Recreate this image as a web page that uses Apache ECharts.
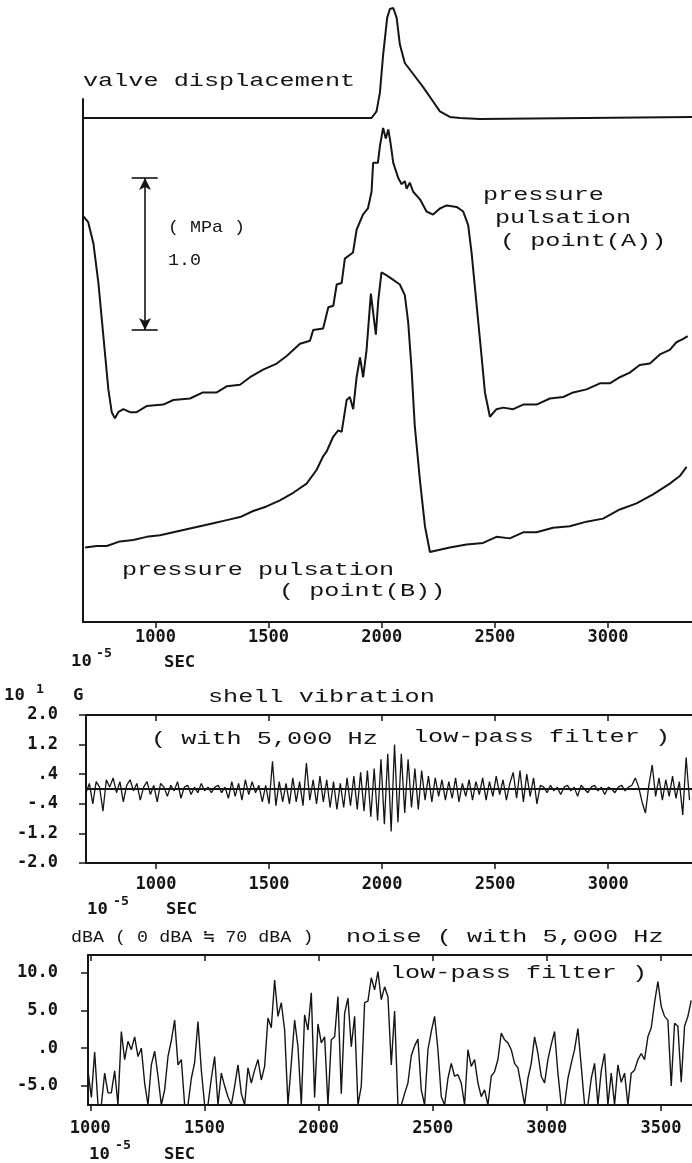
<!DOCTYPE html>
<html>
<head>
<meta charset="utf-8">
<script src="https://cdn.jsdelivr.net/npm/echarts@6/dist/echarts.min.js"></script>
<style>
  html, body { margin: 0; padding: 0; background: #fff; }
  #chart { width: 692px; height: 1163px; }
</style>
</head>
<body>
<div id="chart"></div>
<script>
// time axis is in 10^-5 sec everywhere

// valve displacement (relative, peak = 1)
const valveTime = [680, 1197, 1955, 1977, 1992, 2006, 2024, 2036, 2051, 2066, 2080, 2102, 2139, 2183, 2227, 2257, 2301, 2345, 2434, 3371];
const valveDisp = [0, 0, 0, 0.06, 0.23, 0.57, 0.91, 0.99, 1.0, 0.91, 0.67, 0.5, 0.4, 0.28, 0.15, 0.06, 0.01, 0, -0.01, 0.01];

// pressure pulsation, point (A), MPa above the axis
const timeA = [681, 703, 726, 748, 770, 792, 807, 821, 836, 858, 888, 917, 961, 1035, 1079, 1153, 1210, 1271, 1315, 1374,
  1418, 1476, 1536, 1580, 1639, 1683, 1697, 1741, 1764, 1786, 1801, 1823, 1837, 1873, 1889, 1917, 1939, 1955, 1962, 1983,
  1992, 2006, 2018, 2029, 2039, 2051, 2073, 2088, 2102, 2110, 2124, 2139, 2169, 2198, 2227, 2257, 2287, 2331, 2360, 2382,
  2397, 2419, 2441, 2456, 2478, 2507, 2537, 2581, 2625, 2684, 2743, 2802, 2846, 2905, 2964, 3008, 3052, 3096, 3140, 3185,
  3229, 3273, 3302, 3330, 3352];
const pressA = [2.67, 2.63, 2.49, 2.23, 1.88, 1.53, 1.38, 1.34, 1.38, 1.40, 1.38, 1.38, 1.42, 1.43, 1.46, 1.47, 1.51, 1.51, 1.55, 1.56,
  1.61, 1.66, 1.70, 1.75, 1.83, 1.85, 1.92, 1.93, 2.07, 2.08, 2.22, 2.23, 2.39, 2.43, 2.58, 2.68, 2.72, 2.83, 3.02, 3.02,
  3.13, 3.25, 3.18, 3.24, 3.15, 3.02, 2.92, 2.88, 2.90, 2.85, 2.89, 2.83, 2.78, 2.70, 2.68, 2.72, 2.74, 2.73, 2.70, 2.61,
  2.43, 2.09, 1.75, 1.51, 1.35, 1.40, 1.41, 1.40, 1.43, 1.43, 1.47, 1.48, 1.51, 1.53, 1.57, 1.57, 1.61, 1.64, 1.69, 1.70,
  1.76, 1.79, 1.84, 1.86, 1.88];

// pressure pulsation, point (B)
const timeB = [689, 741, 785, 843, 902, 961, 1020, 1079, 1138, 1197, 1256, 1315, 1374, 1432, 1491, 1550, 1609, 1668, 1712, 1741,
  1756, 1786, 1808, 1823, 1845, 1859, 1874, 1889, 1904, 1918, 1933, 1952, 1965, 1974, 1985, 1999, 2022, 2051, 2080, 2102,
  2117, 2132, 2146, 2169, 2191, 2213, 2242, 2301, 2375, 2448, 2507, 2566, 2625, 2684, 2757, 2831, 2905, 2978, 3052, 3126,
  3199, 3273, 3317, 3347];
const pressB = [0.49, 0.50, 0.50, 0.53, 0.54, 0.56, 0.57, 0.59, 0.61, 0.63, 0.65, 0.67, 0.69, 0.73, 0.76, 0.80, 0.85, 0.91, 1.00, 1.09,
  1.12, 1.22, 1.26, 1.25, 1.46, 1.48, 1.40, 1.61, 1.74, 1.61, 1.79, 2.16, 2.00, 1.89, 2.12, 2.30, 2.28, 2.25, 2.22, 2.15,
  1.97, 1.66, 1.29, 0.93, 0.63, 0.46, 0.47, 0.49, 0.51, 0.52, 0.56, 0.55, 0.59, 0.59, 0.62, 0.63, 0.66, 0.68, 0.74, 0.78,
  0.84, 0.91, 0.96, 1.02];

// 1.0 MPa scale bar: cap ends / shaft x, and low/high level
const scaleBarX = [895, 954, 1010];
const scaleBarMPa = [1.92, 2.92];

// shell vibration (10^1 G), read every 15 from t = 690
const vibStart = 690, vibStep = 15;
const vibration = [
  -0.1, 0.15, -0.4, 0.2, 0.05, -0.6, 0.25, 0.05, 0.3, -0.1, 0.2, -0.35, 0.1, 0.25, -0.05, 0.15, -0.3, 0.05, 0.2, -0.15,
  0.1, -0.35, 0.15, 0.05, -0.2, 0.1, -0.05, 0.2, -0.25, 0.05, 0.1, -0.15, 0.05, -0.1, 0.15, -0.05, 0.05, -0.1, 0.05, 0.1,
  -0.1, 0.05, -0.25, 0.2, -0.2, 0.15, -0.3, 0.25, -0.15, 0.2, -0.1, 0.1, -0.35, 0.1, -0.4, 0.75, -0.45, 0.2, -0.35, 0.15,
  -0.4, 0.3, -0.35, 0.2, -0.45, 0.7, -0.3, 0.25, -0.4, 0.35, -0.35, 0.25, -0.5, 0.2, -0.55, 0.15, -0.5, 0.3, -0.45, 0.35,
  -0.55, 0.45, -0.6, 0.5, -0.75, 0.55, -0.85, 0.8, -0.95, 0.95, -1.15, 1.2, -0.9, 0.95, -0.65, 0.8, -0.5, 0.55, -0.55, 0.5,
  -0.3, 0.35, -0.35, 0.3, -0.2, 0.25, -0.3, 0.2, -0.25, 0.3, -0.35, 0.15, -0.2, 0.25, -0.3, 0.2, -0.15, 0.3, -0.3, 0.2,
  -0.2, 0.35, -0.15, 0.25, -0.3, 0.15, 0.45, -0.25, 0.5, -0.35, 0.4, -0.2, 0.3, -0.4, 0.1, 0.05, -0.1, 0.1, -0.05, 0.05,
  -0.15, 0.05, 0.1, -0.05, 0.05, -0.2, 0.1, 0.0, -0.1, 0.05, 0.1, -0.05, 0.05, -0.15, 0.05, 0.0, -0.1, 0.05, 0.1, -0.05,
  0.05, 0.1, 0.3, 0.05, -0.35, -0.65, 0.1, 0.65, -0.2, 0.3, -0.3, 0.25, -0.2, 0.35, -0.25, 0.2, -0.7, 0.85, -0.3
];

// noise (dBA, 0 dBA = 70 dBA), read every 14.6 from t = 990
const noiseStart = 990, noiseStep = 14.6;
const noise = [
  -3.0, -6.5, -0.5, -7.5, -7.5, -3.3, -5.9, -5.9, -3.0, -7.5, 2.2, -1.5, 0.9, -0.2, 1.5, -1.1, 0.0, -4.6, -7.5, -2.2,
  -0.4, -3.7, -7.5, -5.5, -1.1, 1.0, 3.7, -2.2, -1.5, -7.5, -7.5, -4.0, -1.9, 3.5, -2.9, -7.5, -7.5, -4.0, -1.1, -7.5,
  -3.3, -5.0, -6.4, -7.5, -5.0, -2.2, -6.0, -7.5, -2.6, -4.6, -2.9, -1.5, -4.2, -2.4, 4.0, 2.7, 9.0, 4.2, 6.0, 2.4,
  -7.5, -2.0, 3.7, 0.2, -7.5, 4.4, 2.4, 7.3, -6.5, 3.2, 0.7, 1.5, -7.5, 1.1, 1.5, 6.8, -6.0, 4.6, 6.6, 0.2,
  4.2, -7.5, -5.0, 6.0, 6.2, 9.3, 7.7, 10.1, 6.4,
  8.1, 6.8, -2.2, 4.9, -7.5, -7.5, -6.0, -4.6, -1.0, 0.3, 1.2, -5.5, -7.5, -0.2, 2.2, 4.2, -0.2, -6.4, -7.5, -4.0,
  -2.0, -3.7, -3.5, -4.6, -7.5, -0.2, -2.4, -1.5, -4.6, -6.4, -5.5, -7.5, -3.7, -3.1, -1.5, 2.0, 1.1, 0.7, -0.2, -2.0,
  -2.6, -5.0, -7.5, -4.0, -2.0, 1.5, -0.7, -3.7, -4.6, -1.5, 0.5, 2.2, -3.3, -7.5, -7.5, -4.0, -2.0, -0.2, 2.6, -2.4,
  -7.5, -7.5, -4.0, -2.0, -7.5, -3.0, -0.7, -7.5, -3.3, -7.5, -2.2, -4.5, -3.3, -7.5, -3.3, -2.9, -1.5, -0.7, -1.5, 1.5,
  2.7, 6.0, 8.8, 5.5, 4.2, 3.7, -5.0, 3.3, 2.9, -4.5, 2.9, 4.2, 6.3
];

// tick labels
const timeTicksTop = [1000, 1500, 2000, 2500, 3000];
const timeTicksNoise = [1000, 1500, 2000, 2500, 3000, 3500];
const vibTicks = [-2.0, -1.2, -0.4, 0.4, 1.2, 2.0];
const noiseTicks = [-5, 0, 5, 10];

const INK = '#151515';
const MONO = '"Liberation Mono", "DejaVu Sans Mono", monospace';
const DIGITS = '"DejaVu Sans Mono", monospace';

const zip = (xs, ys) => xs.map((x, i) => [x, ys[i]]);
const sampled = (t0, dt, ys) => ys.map((y, i) => [Math.round((t0 + i * dt) * 10) / 10, y]);

// ".4", "-.4", ".0" like the plotter did
function shortNum(v) {
  let s = v.toFixed(1);
  if (Math.abs(v) < 1) s = s.replace('0.', '.');
  return s;
}

function timeAxis(grid, min, max, ticks, opts) {
  opts = opts || {};
  return {
    type: 'value', gridIndex: grid, min: min, max: max,
    position: opts.top ? 'top' : 'bottom',
    axisLine: { show: true, onZero: false, lineStyle: { color: INK, width: 2 } },
    axisTick: { show: true, inside: !!opts.top, length: 6, customValues: ticks, lineStyle: { color: INK, width: 1.5 } },
    axisLabel: {
      show: !opts.top, customValues: ticks, margin: opts.margin || 12,
      formatter: v => String(v),
      color: INK, fontFamily: DIGITS, fontWeight: 'bold', fontSize: 17
    },
    splitLine: { show: false }
  };
}

function valueAxis(grid, min, max, ticks, margin) {
  return {
    type: 'value', gridIndex: grid, min: min, max: max,
    axisLine: { show: true, onZero: false, lineStyle: { color: INK, width: 2 } },
    axisTick: { show: true, length: 7, customValues: ticks, lineStyle: { color: INK, width: 1.5 } },
    axisLabel: {
      customValues: ticks, margin: margin, formatter: shortNum,
      color: INK, fontFamily: DIGITS, fontWeight: 'bold', fontSize: 17
    },
    splitLine: { show: false }
  };
}

function label(text, x, y, extra) {
  extra = extra || {};
  return {
    type: 'text', x: x, y: y, silent: true,
    scaleX: extra.scaleX || 1.4,
    style: {
      text: text, fill: INK,
      font: extra.font || ('18px ' + MONO),
      align: 'left', verticalAlign: 'middle'
    }
  };
}

const small = { font: 'bold 15px ' + DIGITS, scaleX: 1.15 };
const sup = { font: 'bold 12px ' + DIGITS, scaleX: 1.1 };
const narrow = { font: '17px ' + MONO, scaleX: 1.08 };

const lineSeries = (name, xi, yi, data, width) => ({
  name: name, type: 'line', xAxisIndex: xi, yAxisIndex: yi, data: data,
  showSymbol: false, symbol: 'none', smooth: false, animation: false,
  lineStyle: { color: INK, width: width }
});

const chart = echarts.init(document.getElementById('chart'), null, { renderer: 'canvas' });

const pressureA = lineSeries('pressure pulsation (point(A))', 1, 1, zip(timeA, pressA), 2);
pressureA.markLine = {
  silent: true, animation: false, symbolSize: [9, 12],
  label: { show: false },
  lineStyle: { color: INK, width: 1.6, type: 'solid' },
  data: [
    [{ coord: [scaleBarX[1], scaleBarMPa[0]], symbol: 'arrow' }, { coord: [scaleBarX[1], scaleBarMPa[1]], symbol: 'arrow' }],
    [{ coord: [scaleBarX[0], scaleBarMPa[1]], symbol: 'none' }, { coord: [scaleBarX[2], scaleBarMPa[1]], symbol: 'none' }],
    [{ coord: [scaleBarX[0], scaleBarMPa[0]], symbol: 'none' }, { coord: [scaleBarX[2], scaleBarMPa[0]], symbol: 'none' }]
  ]
};

const shell = lineSeries('shell vibration', 2, 2, sampled(vibStart, vibStep, vibration), 1.3);
shell.markLine = {
  silent: true, animation: false, symbol: 'none',
  label: { show: false },
  lineStyle: { color: INK, width: 1.8, type: 'solid' },
  data: [{ yAxis: 0 }]
};

const option = {
  animation: false,
  backgroundColor: '#ffffff',
  grid: [
    { left: 83, top: 5, right: 0, height: 124 },
    { left: 83, top: 99, right: 0, height: 523 },
    { left: 86, top: 715, right: 0, height: 148 },
    { left: 88, top: 955, right: 0, height: 150 }
  ],
  xAxis: [
    { type: 'value', gridIndex: 0, min: 680, max: 3371, show: false },
    timeAxis(1, 680, 3371, timeTicksTop, { margin: 7 }),
    timeAxis(2, 690, 3371, timeTicksTop, { margin: 13 }),
    timeAxis(2, 690, 3371, timeTicksTop, { top: true }),
    timeAxis(3, 990, 3636, timeTicksNoise, { margin: 15 }),
    timeAxis(3, 990, 3636, timeTicksNoise, { top: true })
  ],
  yAxis: [
    { type: 'value', gridIndex: 0, min: -0.1, max: 1.027, show: false },
    {
      type: 'value', gridIndex: 1, min: 0, max: 3.44,
      axisLine: { show: true, lineStyle: { color: INK, width: 2 } },
      axisTick: { show: false }, axisLabel: { show: false }, splitLine: { show: false }
    },
    valueAxis(2, -2, 2, vibTicks, 28),
    valueAxis(3, -7.5, 12.3, noiseTicks, 30)
  ],
  series: [
    lineSeries('valve displacement', 0, 0, zip(valveTime, valveDisp), 2),
    pressureA,
    lineSeries('pressure pulsation (point(B))', 1, 1, zip(timeB, pressB), 2),
    shell,
    lineSeries('noise', 4, 3, sampled(noiseStart, noiseStep, noise), 1.4)
  ],
  graphic: [
    label('valve displacement', 83, 81),
    label('pressure', 483, 195),
    label('pulsation', 495, 218),
    label('( point(A))', 500, 241),
    label('( MPa )', 168, 227, narrow),
    label('1.0', 168, 260, narrow),
    label('pressure pulsation', 122, 570),
    label('( point(B))', 279, 591),
    label('10', 71, 662, small), label('-5', 96, 654, sup), label('SEC', 164, 663, small),
    label('10', 4, 696, small), label('1', 36, 690, sup), label('G', 73, 696, small),
    label('shell vibration', 208, 697),
    label('( with 5,000 Hz', 151, 739),
    label('low-pass filter )', 413, 737),
    label('10', 87, 910, small), label('-5', 113, 902, sup), label('SEC', 166, 910, small),
    label('dBA ( 0 dBA \u2252 70 dBA )', 71, 937, narrow),
    label('noise ( with 5,000 Hz', 346, 937),
    label('low-pass filter )', 390, 973),
    label('10', 89, 1155, small), label('-5', 115, 1146, sup), label('SEC', 164, 1155, small)
  ]
};

chart.setOption(option);
</script>
</body>
</html>
